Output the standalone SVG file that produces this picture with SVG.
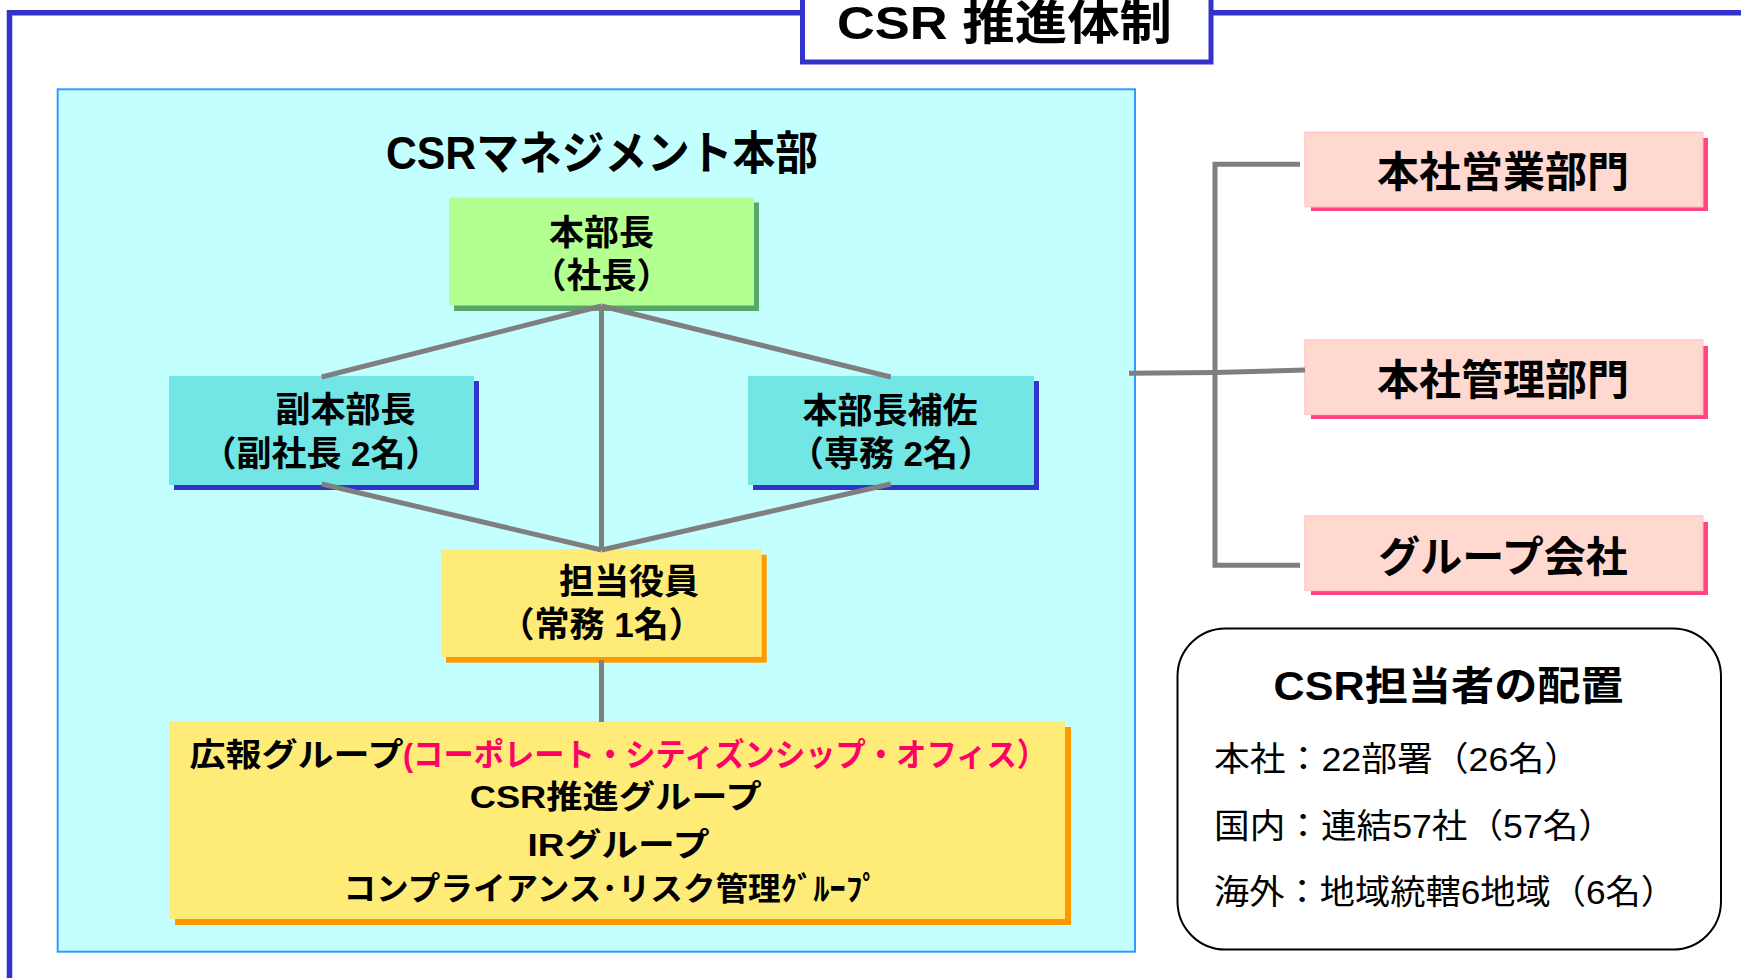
<svg xmlns="http://www.w3.org/2000/svg" width="1741" height="978" viewBox="0 0 1741 978">
<style>
.t{font-family:"Liberation Sans","Noto Sans CJK JP",sans-serif;font-weight:bold;fill:#000}
.m{text-anchor:middle}
.r{font-weight:normal}
.n35{font-size:35px}
.n32{font-size:32px}
.conn{stroke:#7f7f7f;stroke-width:5;fill:none}
.green{fill:#b3ff8f}.greenS{fill:#55a86a}
.turq{fill:#72e5e5}.turqS{fill:#3333cc}
.yel{fill:#ffec78}.yelS{fill:#ff9900}
.pink{fill:#ffd8cf;stroke:#ffc8c8;stroke-width:1.5}.pinkS{fill:#ff4480}
</style>
<rect width="1741" height="978" fill="#ffffff"/>

<g id="frame">
<path d="M9.5,990 V12.7 H1745" fill="none" stroke="#3333cc" stroke-width="5.5"/>
<rect x="802.5" y="-40" width="408.5" height="102" fill="#ffffff" stroke="#3333cc" stroke-width="5"/>
<text class="t m" x="1004.5" y="39" font-size="47" textLength="335" lengthAdjust="spacingAndGlyphs">CSR 推進体制</text>
</g>

<g id="csr-management-hq">
<rect x="57.7" y="89.3" width="1077.3" height="862.4" fill="#c4ffff" stroke="#3399ff" stroke-width="2"/>
<text class="t m" x="602" y="169" font-size="46" textLength="432" lengthAdjust="spacingAndGlyphs">CSRマネジメント本部</text>
</g>

<g id="node-honbucho">
<rect class="greenS" x="454" y="202.5" width="305" height="108.5"/>
<rect class="green" x="449" y="197.5" width="305" height="108"/>
<text class="t m n35" x="601.5" y="245">本部長</text>
<text class="t m n35" x="601.5" y="288">（社長）</text>
</g>

<g id="node-fuku-honbucho">
<rect class="turqS" x="174" y="381" width="305" height="109"/>
<rect class="turq" x="169" y="376" width="305" height="109"/>
<text class="t m n35" x="345.5" y="422">副本部長</text>
<text class="t m n35" x="321" y="466">（副社長 2名）</text>
</g>

<g id="node-honbucho-hosa">
<rect class="turqS" x="753" y="381" width="286" height="109"/>
<rect class="turq" x="748" y="376" width="286" height="109"/>
<text class="t m n35" x="890" y="423">本部長補佐</text>
<text class="t m n35" x="891" y="466">（専務 2名）</text>
</g>

<g id="node-tanto-yakuin">
<rect class="yelS" x="446" y="554.7" width="320.7" height="108"/>
<rect class="yel" x="441" y="549" width="320.7" height="108"/>
<text class="t m n35" x="629" y="594">担当役員</text>
<text class="t m n35" x="601.7" y="637">（常務 1名）</text>
</g>

<g id="node-groups">
<rect class="yelS" x="175" y="727" width="896" height="198"/>
<rect class="yel" x="169" y="721" width="896" height="198"/>
<text class="t n32" x="189.5" y="766" textLength="214" lengthAdjust="spacingAndGlyphs">広報グループ</text>
<text class="t n32" x="403" y="766" style="fill:#ff0066" textLength="644" lengthAdjust="spacingAndGlyphs">(コーポレート・シティズンシップ・オフィス）</text>
<text class="t m n32" x="615.7" y="808" textLength="292" lengthAdjust="spacingAndGlyphs">CSR推進グループ</text>
<text class="t m n32" x="618.6" y="856" textLength="182" lengthAdjust="spacingAndGlyphs">IRグループ</text>
<text class="t m n32" x="611" y="900" textLength="535" lengthAdjust="spacingAndGlyphs">コンプライアンス･リスク管理ｸﾞﾙｰﾌﾟ</text>
</g>

<g id="node-eigyo">
<rect class="pinkS" x="1311" y="138" width="397" height="73"/>
<rect class="pink" x="1305" y="132.3" width="397.7" height="74.4"/>
<text class="t m" x="1503" y="187" font-size="42">本社営業部門</text>
</g>

<g id="node-kanri">
<rect class="pinkS" x="1311" y="346" width="397" height="73"/>
<rect class="pink" x="1305" y="340" width="397.7" height="74.4"/>
<text class="t m" x="1503" y="395" font-size="42">本社管理部門</text>
</g>

<g id="node-group-companies">
<rect class="pinkS" x="1311" y="522" width="397" height="73"/>
<rect class="pink" x="1305" y="516" width="397.7" height="74.4"/>
<text class="t m" x="1503" y="572" font-size="42">グループ会社</text>
</g>

<g id="node-csr-staff">
<rect x="1177.5" y="628.5" width="543.5" height="321" rx="48" ry="48" fill="#ffffff" stroke="#000000" stroke-width="2"/>
<text class="t m" x="1448.6" y="700" font-size="40" textLength="350" lengthAdjust="spacingAndGlyphs">CSR担当者の配置</text>
<text class="t r" x="1214" y="771" font-size="34" textLength="366" lengthAdjust="spacingAndGlyphs">本社：22部署（26名）</text>
<text class="t r" x="1214" y="837.5" font-size="34" textLength="400" lengthAdjust="spacingAndGlyphs">国内：連結57社（57名）</text>
<text class="t r" x="1214" y="904" font-size="34" textLength="462" lengthAdjust="spacingAndGlyphs">海外：地域統轄6地域（6名）</text>
</g>

<g id="connectors">
<line class="conn" x1="601.5" y1="306" x2="321.7" y2="377"/>
<line class="conn" x1="601.5" y1="306" x2="890.7" y2="377"/>
<line class="conn" x1="601.5" y1="306" x2="601.5" y2="550"/>
<line class="conn" x1="321.7" y1="484" x2="601.5" y2="550"/>
<line class="conn" x1="890.7" y1="484" x2="601.5" y2="550"/>
<line class="conn" x1="601.5" y1="660" x2="601.5" y2="722"/>
<line class="conn" x1="1129" y1="373.3" x2="1215" y2="372.5" stroke-width="7"/>
<line class="conn" x1="1215" y1="372.5" x2="1305" y2="370"/>
<polyline class="conn" points="1300,164.3 1215,164.3 1215,565.3 1300,565.3" stroke-width="6"/>
</g>
</svg>
